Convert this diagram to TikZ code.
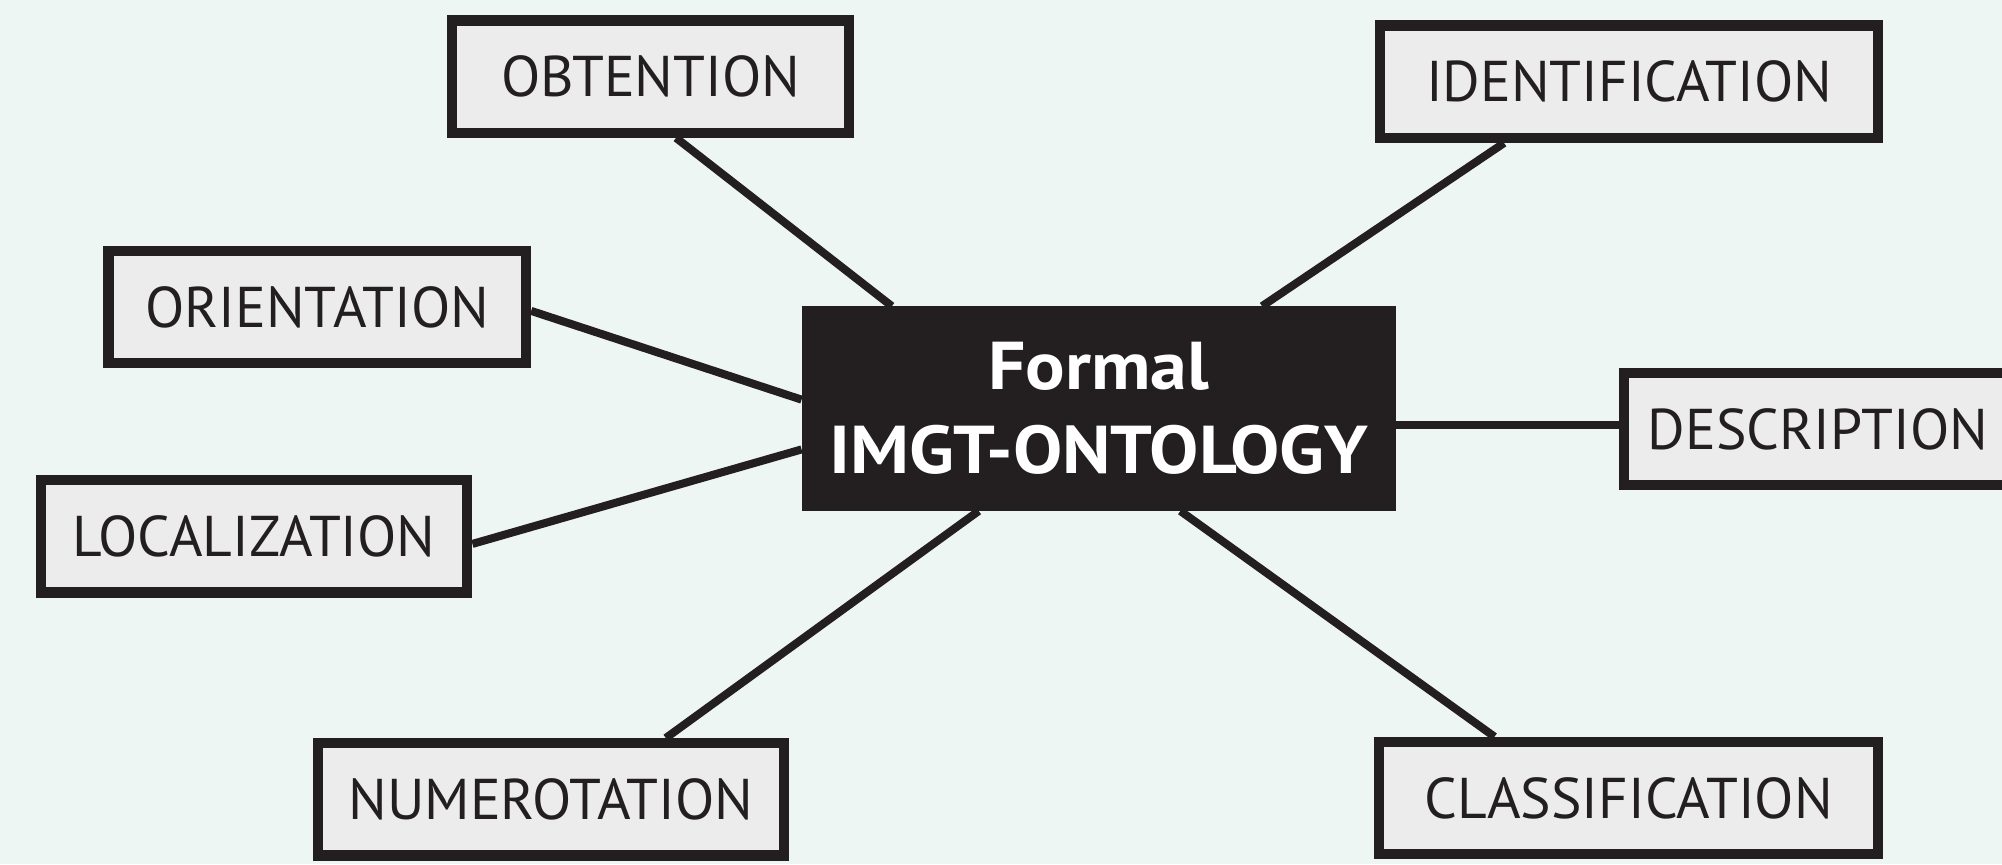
\documentclass[tikz,border=0pt]{standalone}
\usepackage{fontspec}
\newfontfamily\boxfont{PT Sans}
\newfontfamily\corefont[FakeStretch=1.09]{PT Sans}
\usetikzlibrary{backgrounds}

\definecolor{mint}{HTML}{EEF6F3}
\definecolor{boxgray}{HTML}{ECECEC}
\definecolor{ink}{HTML}{231F20}

\pgfdeclarelayer{paper}
\pgfsetlayers{paper,background,main}

\tikzset{
  term/.style={draw=ink, fill=boxgray, line width=8pt, minimum height=88pt,
    inner sep=0pt, text=ink, font=\boxfont\fontsize{45}{54}\selectfont},
  core/.style={fill=ink, text=white, align=center, minimum width=465pt,
    minimum height=160pt, inner sep=0pt,
    font=\corefont\bfseries\fontsize{53}{66}\selectfont},
  link/.style={draw=ink, line width=6.3pt}
}

\begin{document}
\begin{tikzpicture}[x=1pt, y=-1pt]
  % Background and page size
  \begin{pgfonlayer}{paper}
    \fill[mint] (0,0) rectangle (1568,677);
  \end{pgfonlayer}
  \useasboundingbox (0,0) rectangle (1568,677);

  % Central concept
  \node[core] (onto) at (860.5,320) {Formal\\IMGT-ONTOLOGY};

  % Surrounding concepts
  \node[term, minimum width=311pt] (obt) at (509.5,60)  {OBTENTION};
  \node[term, minimum width=327pt] (ori) at (248.5,240.5) {ORIENTATION};
  \node[term, minimum width=334pt] (loc) at (199,420)   {LOCALIZATION};
  \node[term, minimum width=365pt] (num) at (431.5,626) {NUMEROTATION};
  \node[term, minimum width=390pt] (ide) at (1276,64)   {IDENTIFICATION};
  \node[term, minimum width=332pt] (des) at (1438,336)  {\hspace*{-28pt}DESCRIPTION};
  \node[term, minimum width=391pt] (cla) at (1275.5,625) {CLASSIFICATION};

  % Connectors behind the boxes
  \begin{scope}[on background layer]
    \draw[link] ([xshift=20pt]obt.south) -- ([xshift=-162pt]onto.north);
    \draw[link] ([xshift=-98pt]ide.south) -- ([xshift=128pt]onto.north);
    \draw[link] ([yshift=-3pt]ori.east) -- ([yshift=7pt]onto.west);
    \draw[link] ([yshift=-6pt]loc.east) -- ([yshift=-32pt]onto.west);
    \draw[link] ([yshift=3pt]des.west) -- ([yshift=3pt]des.west -| onto.east);
    \draw[link] ([xshift=90pt]num.north) -- ([xshift=-94pt]onto.south);
    \draw[link] ([xshift=-105pt]cla.north) -- ([xshift=64pt]onto.south);
  \end{scope}
\end{tikzpicture}
\end{document}
